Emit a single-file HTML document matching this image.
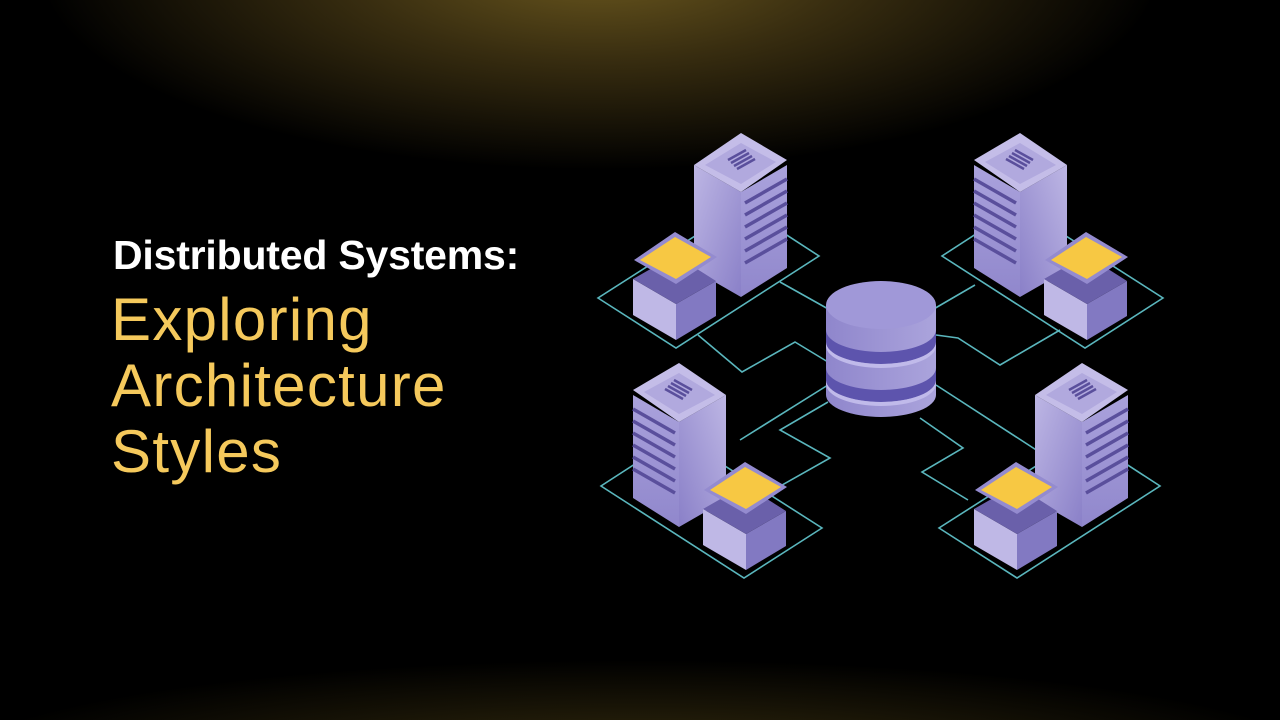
<!DOCTYPE html>
<html><head><meta charset="utf-8"><style>
html,body{margin:0;padding:0;width:1280px;height:720px;overflow:hidden;background:#000}
.bg{position:absolute;inset:0;background:
radial-gradient(ellipse 560px 200px at 600px -30px,#6a571e 0%,#382d10 45%,rgba(0,0,0,0) 100%),
radial-gradient(ellipse 700px 110px at 640px 770px,#3a300f 0%,rgba(0,0,0,0) 100%),#000}
.t1{position:absolute;left:113px;top:232px;font:700 41px "Liberation Sans",sans-serif;color:#fff;letter-spacing:-0.2px}
.t2{position:absolute;left:111px;top:287px;font:300 60px/66px "Liberation Sans",sans-serif;color:#f5c95c;letter-spacing:1.3px}
svg{position:absolute;left:0;top:0}
</style></head><body>
<div class="bg"></div>
<div class="t1">Distributed Systems:</div>
<div class="t2">Exploring<br>Architecture<br>Styles</div>
<svg width="1280" height="720" viewBox="0 0 1280 720">
<defs>
<linearGradient id="lf" x1="0" y1="0" x2="1" y2="1"><stop offset="0" stop-color="#bdb6e4"/><stop offset="1" stop-color="#8a80c8"/></linearGradient>
<linearGradient id="rf" x1="0" y1="0" x2="0" y2="1"><stop offset="0" stop-color="#aaa2dc"/><stop offset="1" stop-color="#9087cc"/></linearGradient>
<linearGradient id="db" x1="0" y1="0" x2="1" y2="0"><stop offset="0" stop-color="#8f86cc"/><stop offset="1" stop-color="#aba4dc"/></linearGradient>
<g id="unit">
<polygon points="598,298 676,348 819,256 742,206" fill="none" stroke="#5ab6bd" stroke-width="1.6"/>
<polygon points="694,165 741,192 741,297 694,270" fill="url(#lf)"/>
<polygon points="741,192 787,165 787,268 741,297" fill="url(#rf)"/>
<polygon points="694,165 741,133 787,160 741,192" fill="#c4bde8"/>
<polygon points="705,165 741,143 776,162 741,184" fill="#b1a9de"/>
<g stroke="#5a4f9c" stroke-width="2.5">
<line x1="728" y1="160" x2="746" y2="150"/><line x1="731" y1="163" x2="749" y2="153"/><line x1="734" y1="166" x2="752" y2="156"/><line x1="737" y1="169" x2="755" y2="159"/>
</g>
<g stroke="#5a4f9c" stroke-width="3.5">
<line x1="745" y1="203" x2="787" y2="179"/><line x1="745" y1="215" x2="787" y2="191"/><line x1="745" y1="227" x2="787" y2="203"/><line x1="745" y1="239" x2="787" y2="215"/><line x1="745" y1="251" x2="787" y2="227"/><line x1="745" y1="263" x2="787" y2="239"/>
</g>
</g>
<g id="box">
<polygon points="633,279 676,304 676,340 633,315" fill="#bfb8e6"/>
<polygon points="676,304 716,281 716,316 676,340" fill="#8279c2"/>
<polygon points="633,279 675,255 716,281 676,304" fill="#6a60aa"/>
<polygon points="634,260 675,232 717,257 676,284" fill="#948bcf"/>
<polygon points="640,260 675,237 711,257 676,279" fill="#f7c843"/>
</g>
</defs>
<g fill="none" stroke="#5ab6bd" stroke-width="1.6">
<polyline points="780,282 830,310"/>
<polyline points="698,335 742,372 795,342 828,362"/>
<polyline points="932,310 975,285"/>
<polyline points="936,335 958,338 1000,365 1060,330"/>
<polyline points="828,402 780,430 830,458 752,502"/>
<polyline points="936,385 1044,455"/>
<polyline points="920,418 963,448 922,472 968,500"/>
<polyline points="828,385 740,440"/>
</g>
<use href="#unit"/>
<use href="#box"/>
<use href="#unit" transform="translate(1761,0) scale(-1,1)"/>
<use href="#box" transform="translate(411,0)"/>
<use href="#unit" transform="translate(1420,230) scale(-1,1)"/>
<use href="#box" transform="translate(70,230)"/>
<use href="#unit" transform="translate(341,230)"/>
<use href="#box" transform="translate(341,230)"/>
<path d="M826,305 V395 A55,22 0 0 0 936,395 V305 Z" fill="url(#db)"/>
<path d="M826,330 A55,22 0 0 0 936,330 V342 A55,22 0 0 1 826,342 Z" fill="#5d54ad"/>
<path d="M826,368 A55,22 0 0 0 936,368 V380 A55,22 0 0 1 826,380 Z" fill="#5d54ad"/>
<path d="M826,342 A55,22 0 0 0 936,342 V346 A55,22 0 0 1 826,346 Z" fill="#c0baea"/>
<path d="M826,380 A55,22 0 0 0 936,380 V384 A55,22 0 0 1 826,384 Z" fill="#c0baea"/>
<ellipse cx="881" cy="305" rx="55" ry="24" fill="#a098d8"/>
</svg>
</body></html>
